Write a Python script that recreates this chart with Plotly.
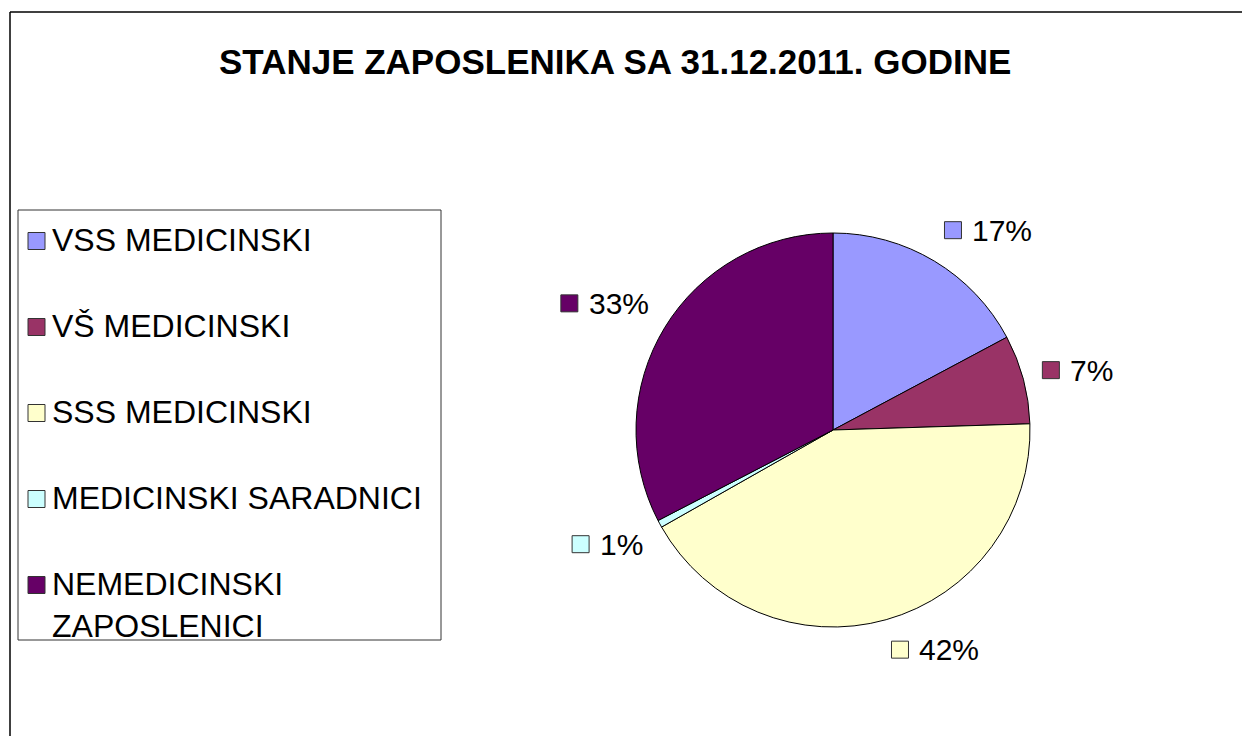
import math
import plotly.graph_objects as go

# ---- data ----
title_text = "STANJE ZAPOSLENIKA SA 31.12.2011. GODINE"
categories = ["VSS MEDICINSKI", "VŠ MEDICINSKI", "SSS MEDICINSKI",
              "MEDICINSKI SARADNICI", "NEMEDICINSKI<br>ZAPOSLENICI"]
values = [17.2, 7.3, 42.3, 0.6, 32.6]
colors = ["#9999FF", "#993366", "#FFFFCC", "#CCFFFF", "#660066"]

# ---- layout constants (screen pixels) ----
OFF = 8  # page body margin
W, H = 1250 - 2 * OFF, 744 - 2 * OFF
CX, CY, R = 833, 430, 197
FONT = "Liberation Sans, Arial, sans-serif"


def px(x):
    return (x - OFF) / W


def py(y):
    return 1 - (y - OFF) / H


fig = go.Figure()
fig.add_trace(go.Pie(
    labels=categories, values=values, sort=False, direction="clockwise",
    rotation=0, marker=dict(colors=colors, line=dict(color="black", width=1)),
    textinfo="none", hoverinfo="label+percent", showlegend=False,
    domain=dict(x=[px(CX - R), px(CX + R)], y=[py(CY + R), py(CY - R)]),
))

shapes = []
annotations = []

# outer chart border (only top and left edges fall inside the frame)
shapes.append(dict(type="line", xref="paper", yref="paper",
                   x0=px(10), x1=px(1400), y0=py(12), y1=py(12),
                   line=dict(color="black", width=1.5)))
shapes.append(dict(type="line", xref="paper", yref="paper",
                   x0=px(10), x1=px(10), y0=py(12), y1=py(900),
                   line=dict(color="black", width=1.5)))

# title
annotations.append(dict(text="<b>" + title_text + "</b>", x=px(615), y=py(62),
                        xref="paper", yref="paper", xanchor="center", yanchor="middle",
                        showarrow=False, font=dict(family=FONT, size=35, color="black")))

# ---- manual legend ----
LEG_X0, LEG_Y0, LEG_X1, LEG_Y1 = 18, 210, 441, 640
shapes.append(dict(type="rect", xref="paper", yref="paper",
                   x0=px(LEG_X0), x1=px(LEG_X1), y0=py(LEG_Y1), y1=py(LEG_Y0),
                   line=dict(color="#333333", width=1), fillcolor="white", layer="below"))
SQ = 17
for i, (lab, col) in enumerate(zip(categories, colors)):
    ycen = 241 + 86 * i
    shapes.append(dict(type="rect", xref="paper", yref="paper",
                       x0=px(28), x1=px(28 + SQ), y0=py(ycen + SQ / 2), y1=py(ycen - SQ / 2),
                       line=dict(color="#333333", width=1), fillcolor=col))
    annotations.append(dict(text=lab, x=px(50), y=py(ycen - 21), xref="paper", yref="paper",
                            xanchor="left", yanchor="top", align="left", showarrow=False,
                            font=dict(family=FONT, size=32, color="black")))

# ---- data labels (square + percent), positioned from slice mid-angles ----
total = sum(values)
char_w = {"%": 0.889}
LBL_SIZE = 30
cum = 0.0
for v, col in zip(values, colors):
    mid = (cum + v / 2) / total * 2 * math.pi
    cum += v
    pct = f"{round(v / total * 100)}%"
    tw = sum(char_w.get(c, 0.556) for c in pct) * LBL_SIZE
    s, c = math.sin(mid), math.cos(mid)
    rl = R * 1.1
    ax, ay = CX + rl * s, CY - rl * c
    if c > 0.3:
        cy = ay - 14
    elif c < -0.3:
        cy = ay + 11
    else:
        cy = ay - 4
    box_w = SQ + 10 + tw
    left = ax if s > 0 else ax - box_w
    shapes.append(dict(type="rect", xref="paper", yref="paper",
                       x0=px(left), x1=px(left + SQ), y0=py(cy + SQ / 2), y1=py(cy - SQ / 2),
                       line=dict(color="#333333", width=1), fillcolor=col))
    annotations.append(dict(text=pct, x=px(left + SQ + 9), y=py(cy), xref="paper", yref="paper",
                            xanchor="left", yanchor="middle", showarrow=False,
                            font=dict(family=FONT, size=LBL_SIZE, color="black")))

fig.update_layout(width=W, height=H, margin=dict(l=0, r=0, t=0, b=0),
                  paper_bgcolor="white", plot_bgcolor="white",
                  shapes=shapes, annotations=annotations, showlegend=False)

fig.write_html("out.html")
